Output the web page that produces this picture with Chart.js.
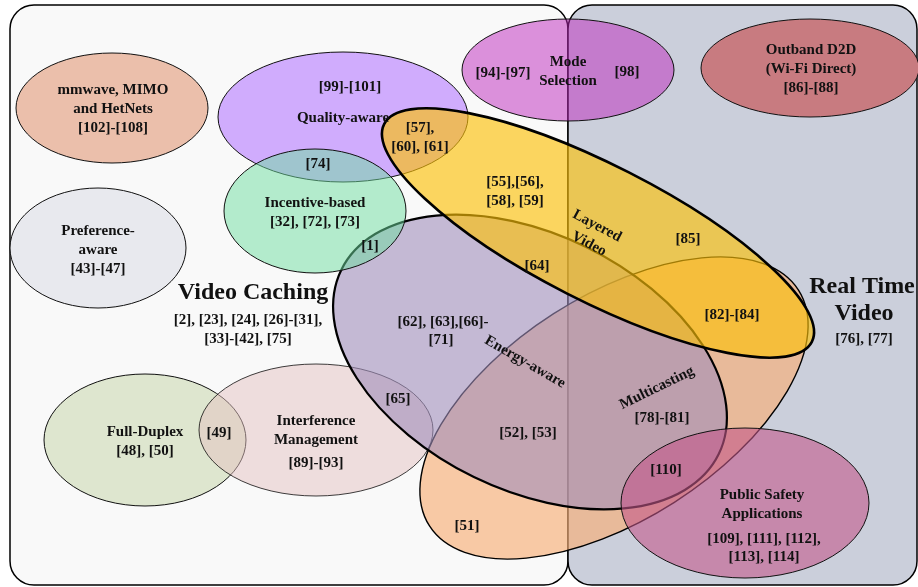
<!DOCTYPE html>
<html>
<head>
<meta charset="utf-8">
<script src="https://cdn.jsdelivr.net/npm/chart.js@4"></script>
<style>
  html, body { margin: 0; padding: 0; background: #fff; }
  #wrap { width: 918px; height: 587px; position: relative; }
</style>
</head>
<body>
<div id="wrap"><canvas id="venn"></canvas></div>
<script>
// Two areas (boxes) and the topic sets (ellipses), in diagram units.
const areaNames = ['Video Caching', 'Real Time Video'];
const areaLeft = [10, 568];
const areaRight = [568, 917];
const areaTop = [5, 5];
const areaBottom = [585, 585];

const setNames = [
  'mmwave', 'preference', 'fullDuplex', 'outband', 'quality', 'interference',
  'multicasting', 'energy', 'incentive', 'layered', 'modeSelection', 'publicSafety',
];
const setCx = [112, 98, 145, 810, 343, 316, 614, 530, 315, 598, 568, 745];
const setCy = [108, 248, 440, 68, 117, 430, 408, 362, 211, 233, 70, 503];
const setRx = [96, 88, 101, 109, 125, 117, 219, 210, 91, 240, 106, 124];
const setRy = [55, 60, 66, 49, 65, 66, 112, 128, 62, 68, 51, 75];
const setAngle = [0, 0, 0, 0, 0, 0, -32.6, 26, 0, 27, 0, 0];

// Text labels: each entry is one line
const labelTexts = [
  'mmwave, MIMO', 'and HetNets', '[102]-[108]',
  'Preference-', 'aware', '[43]-[47]',
  '[99]-[101]', 'Quality-aware',
  '[57],', '[60], [61]',
  '[74]',
  'Incentive-based', '[32], [72], [73]',
  '[1]',
  '[94]-[97]', 'Mode', 'Selection', '[98]',
  'Outband D2D', '(Wi-Fi Direct)', '[86]-[88]',
  '[55],[56],', '[58], [59]',
  'Layered', 'Video',
  '[85]', '[64]',
  'Video Caching', '[2], [23], [24], [26]-[31],', '[33]-[42], [75]',
  '[62], [63],[66]-', '[71]',
  'Real Time', 'Video', '[76], [77]',
  '[82]-[84]',
  'Energy-aware',
  'Multicasting', '[78]-[81]',
  '[65]', '[52], [53]',
  'Full-Duplex', '[48], [50]', '[49]',
  'Interference', 'Management', '[89]-[93]',
  '[110]',
  'Public Safety', 'Applications', '[109], [111], [112],', '[113], [114]',
  '[51]',
];
const labelX = [
  113, 113, 113,
  98, 98, 98,
  350, 343,
  420, 420,
  318,
  315, 315,
  370,
  503, 568, 568, 627,
  811, 811, 811,
  515, 515,
  597, 589,
  688, 537,
  253, 248, 248,
  443, 441,
  862, 864, 864,
  732,
  525,
  657, 662,
  398, 528,
  145, 145, 219,
  316, 316, 316,
  666,
  762, 762, 764, 764,
  467,
];
const labelY = [
  90, 109, 128,
  231, 250, 269,
  87, 118,
  128, 147,
  164,
  203, 222,
  246,
  73, 62, 81, 72,
  50, 69, 88,
  182, 201,
  226, 244,
  239, 266,
  293, 320, 339,
  322, 340,
  287, 314, 339,
  315,
  362,
  388, 418,
  399, 433,
  432, 451, 433,
  421, 440, 463,
  470,
  495, 514, 539, 557,
  526,
];
const labelAngle = labelTexts.map(() => 0);
labelAngle[23] = 28; labelAngle[24] = 28;
labelAngle[36] = 30;
labelAngle[37] = -26;
const labelBig = labelTexts.map(() => false);
[27, 32, 33].forEach((i) => { labelBig[i] = true; });

const setStyle = {
  mmwave:        { fill: 'rgb(235,191,171)', line: 1, stroke: '#111' },
  preference:    { fill: 'rgb(232,233,238)', line: 1, stroke: '#111' },
  fullDuplex:    { fill: 'rgb(222,230,207)', line: 1, stroke: '#111' },
  outband:       { fill: 'rgb(200,123,128)', line: 1, stroke: '#111' },
  quality:       { fill: 'rgba(205,168,253,0.95)', line: 1, stroke: '#111' },
  interference:  { fill: 'rgba(227,193,193,0.5)', line: 1, stroke: 'rgba(0,0,0,0.75)' },
  multicasting:  { fill: 'rgba(248,175,120,0.65)', line: 1.4, stroke: '#000' },
  energy:        { fill: 'rgba(160,142,187,0.6)', line: 2.2, stroke: '#000' },
  incentive:     { fill: 'rgba(109,221,159,0.5)', line: 1, stroke: '#111' },
  layered:       { fill: 'rgba(252,192,8,0.64)', line: 2.6, stroke: '#000' },
  modeSelection: { fill: 'rgba(189,39,189,0.5)', line: 1, stroke: '#111' },
  publicSafety:  { fill: 'rgba(195,89,139,0.6)', line: 1, stroke: '#111' },
};
const areaFill = ['#f9f9f9', '#cbcfdb'];

const vennPlugin = {
  id: 'venn',
  beforeDatasetsDraw(chart) {
    const { ctx, scales: { x, y } } = chart;
    ctx.save();
    // areas
    areaNames.forEach((name, i) => {
      const l = x.getPixelForValue(areaLeft[i]);
      const r = x.getPixelForValue(areaRight[i]);
      const t = y.getPixelForValue(areaTop[i]);
      const b = y.getPixelForValue(areaBottom[i]);
      ctx.beginPath();
      ctx.roundRect(l, t, r - l, b - t, 24);
      ctx.fillStyle = areaFill[i];
      ctx.fill();
      ctx.lineWidth = 1.5;
      ctx.strokeStyle = '#000';
      ctx.stroke();
    });
    // sets
    setNames.forEach((name, i) => {
      const cx = x.getPixelForValue(setCx[i]);
      const cy = y.getPixelForValue(setCy[i]);
      const rx = Math.abs(x.getPixelForValue(setCx[i] + setRx[i]) - cx);
      const ry = Math.abs(y.getPixelForValue(setCy[i] + setRy[i]) - cy);
      const st = setStyle[name];
      ctx.beginPath();
      ctx.ellipse(cx, cy, rx, ry, setAngle[i] * Math.PI / 180, 0, Math.PI * 2);
      ctx.fillStyle = st.fill;
      ctx.fill();
      ctx.lineWidth = st.line;
      ctx.strokeStyle = st.stroke;
      ctx.stroke();
    });
    ctx.restore();
  },
  afterDatasetsDraw(chart) {
    const { ctx, scales: { x, y } } = chart;
    ctx.save();
    ctx.fillStyle = '#111';
    ctx.textAlign = 'center';
    ctx.textBaseline = 'middle';
    labelTexts.forEach((t, i) => {
      ctx.save();
      ctx.translate(x.getPixelForValue(labelX[i]), y.getPixelForValue(labelY[i]));
      ctx.rotate(labelAngle[i] * Math.PI / 180);
      ctx.font = labelBig[i]
        ? 'bold 24px "Liberation Serif", "Times New Roman", serif'
        : 'bold 15px "Liberation Serif", "Times New Roman", serif';
      ctx.fillText(t, 0, 0);
      ctx.restore();
    });
    ctx.restore();
  },
};

new Chart(document.getElementById('venn'), {
  type: 'scatter',
  data: {
    datasets: [{
      data: labelX.map((v, i) => ({ x: v, y: labelY[i] })),
      pointRadius: 0,
    }],
  },
  options: {
    responsive: true,
    maintainAspectRatio: false,
    animation: false,
    layout: { padding: 0 },
    events: [],
    plugins: { legend: { display: false }, tooltip: { enabled: false } },
    scales: {
      x: { type: 'linear', min: 0, max: 918, display: false },
      y: { type: 'linear', min: 0, max: 587, reverse: true, display: false },
    },
  },
  plugins: [vennPlugin],
});
</script>
</body>
</html>
